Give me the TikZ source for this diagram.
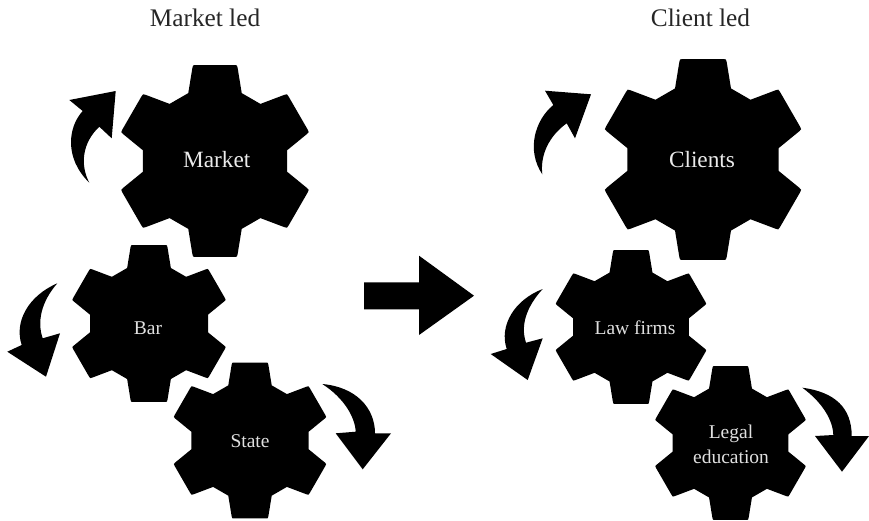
\documentclass[tikz,border=0pt]{standalone}
\usepackage{fontspec}
\setmainfont{Liberation Serif}
\tikzset{
  gearfill/.style={fill=black},
  gearbig/.style={text=black!8,font=\fontsize{23.3}{25}\selectfont,align=center,inner sep=0pt},
  gearsmall/.style={text=black!12,font=\fontsize{19.5}{25}\selectfont,align=center,inner sep=0pt},
  heading/.style={text=black!85,font=\fontsize{25.3}{28}\selectfont,inner sep=0pt},
  turnarrow/.style={fill=black,line join=miter},
}
\newcommand{\drawgear}[3]{%
  \begin{scope}[shift={(#1,#2)}]
    \fill[gearfill] (8.5:#3*0.76pt)
      \foreach \k in {30,90,...,330}{
        -- ({\k-21.5}:#3*0.76pt)
        -- ({\k-13.65}:#3*0.9983pt)
        .. controls ({\k-13}:#3*1.026pt) .. ({\k-11.36}:#3*1.0197pt)
        -- ({\k+11.36}:#3*1.0197pt)
        .. controls ({\k+13}:#3*1.026pt) .. ({\k+13.65}:#3*0.9983pt)
        -- ({\k+21.5}:#3*0.76pt)
      } -- cycle;
  \end{scope}}
\begin{document}
\begin{tikzpicture}[x=1pt,y=-1pt]
\useasboundingbox (0,0) rectangle (869,520);
\fill[white] (0,0) rectangle (869,520);
% gears
\drawgear{215}{161}{96}
\drawgear{149}{323.5}{78.5}
\drawgear{250}{440.5}{78}
\drawgear{703}{159.5}{100.5}
\drawgear{631}{327}{77}
\drawgear{730.5}{443}{77}
% curved arrows
\fill[turnarrow] (115.7,91) -- (69.3,100) -- (82.7,111)
  .. controls (68,127) and (64,158) .. (89.3,182.7)
  .. controls (80,165) and (82,143) .. (99.3,126.7)
  -- (111.7,138.3) -- cycle;
\fill[turnarrow] (591,94.3) -- (545,90.7) -- (553.3,105)
  .. controls (535,120) and (526,150) .. (542.3,174.3)
  .. controls (540,155) and (549,136) .. (566.7,123.3)
  -- (575,138.3) -- cycle;
\fill[turnarrow] (57.3,283.3)
  .. controls (28,296) and (14,322) .. (21.7,345)
  -- (7.3,351.7) -- (46,376.7) -- (60,333.3) -- (42.7,338.3)
  .. controls (37,322) and (41,302) .. (57.3,283.3) -- cycle;
\fill[turnarrow] (542.7,289)
  .. controls (514,300) and (499,326) .. (506.7,349)
  -- (490.7,354) -- (527.7,380) -- (542.7,338.3) -- (526,342.7)
  .. controls (520,325) and (527,306) .. (542.7,289) -- cycle;
\fill[turnarrow] (322.3,384)
  .. controls (356,387) and (375,408) .. (375,433.3)
  -- (391,433.3) -- (362.7,469.3) -- (335.7,433.3) -- (355.7,431.7)
  .. controls (355,417) and (344,398) .. (322.3,384) -- cycle;
\fill[turnarrow] (802.3,387.7)
  .. controls (835,392) and (851.7,408) .. (851.7,436)
  -- (869,436) -- (842,471.7) -- (815,436) -- (833.3,435)
  .. controls (833,420) and (822,402) .. (802.3,387.7) -- cycle;
% block arrow
\fill[black] (364,282.3) -- (419,282.3) -- (419,255.7) -- (474,295.7) -- (419,335) -- (419,309.3) -- (364,309.3) -- cycle;
% labels
\node[heading] (h1) at (205,17.5) {Market led};
\node[heading] (h2) at (700.5,17.5) {Client led};
\node[gearbig] (market) at (216.7,160) {Market};
\node[gearbig] (clients) at (702,160) {Clients};
\node[gearsmall] (bar) at (148,328) {Bar};
\node[gearsmall] (state) at (250,441.5) {State};
\node[gearsmall] (law) at (635,328) {Law firms};
\node[gearsmall] (legal) at (731,444) {Legal\\education};
\end{tikzpicture}
\end{document}
